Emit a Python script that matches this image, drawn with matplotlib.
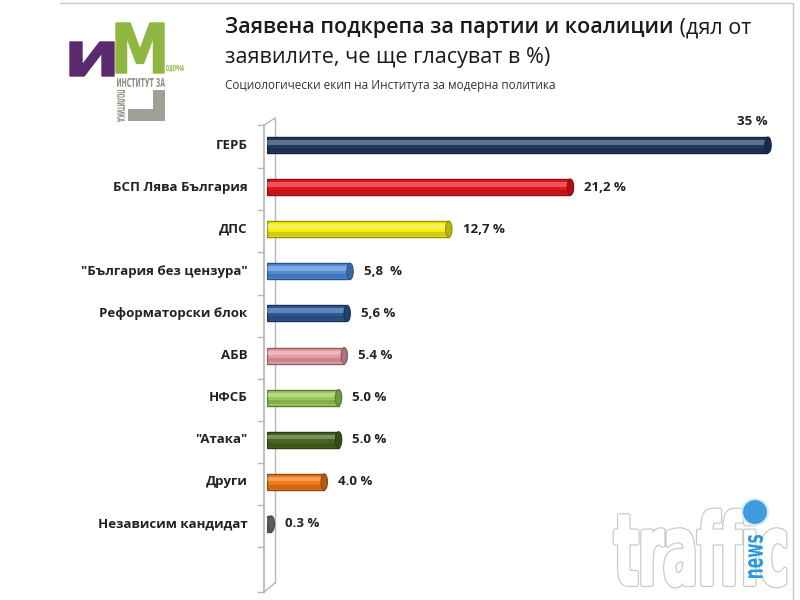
import numpy as np
import matplotlib.pyplot as plt
import matplotlib.colors as mcolors
from matplotlib.patches import Ellipse, PathPatch, Rectangle
from matplotlib.textpath import TextPath
from matplotlib.font_manager import FontProperties
from matplotlib.transforms import Affine2D

plt.rcParams['font.family'] = ['Open Sans', 'DejaVu Sans']

parties = ['ГЕРБ', 'БСП Лява България', 'ДПС', '"България без цензура"',
           'Реформаторски блок', 'АБВ', 'НФСБ', '"Атака"', 'Други',
           'Независим кандидат']
support = [35, 21.2, 12.7, 5.8, 5.6, 5.4, 5.0, 5.0, 4.0, 0.3]
value_labels = ['35 %', '21,2 %', '12,7 %', '5,8  %', '5,6 %', '5.4 %',
                '5.0 %', '5.0 %', '4.0 %', '0.3 %']
colors = ['#1f3a60', '#e8141c', '#f4ee10', '#4f8ad8', '#2c5896',
          '#e99aa2', '#98c95a', '#46651f', '#f07818', '#7a7a7a']

W, H = 800, 600
fig = plt.figure(figsize=(8, 6), dpi=100)
fig.patch.set_facecolor('white')


def box_text(s, x0, y0, x1, y1, color, edge='none', lw=0, rotation=0, zorder=5):
    # stretch a text path so it fills a pixel box (top-left origin)
    tp = TextPath((0, 0), s, size=100,
                  prop=FontProperties(family='DejaVu Sans', weight='bold'))
    ext = tp.get_extents()
    tr = Affine2D().translate(-ext.x0, -ext.y0)
    if rotation == 90:
        tr = tr.rotate_deg(90).translate(ext.height, 0)
        tw, th = ext.height, ext.width
    elif rotation == -90:
        tr = tr.rotate_deg(-90).translate(0, ext.width)
        tw, th = ext.height, ext.width
    else:
        tw, th = ext.width, ext.height
    tr = tr.scale((x1 - x0) / tw / 100, (y1 - y0) / th / 100)
    tr = tr.translate(x0 / 100, (H - y1) / 100)
    fig.add_artist(PathPatch(tr.transform_path(tp), transform=fig.dpi_scale_trans,
                             facecolor=color, edgecolor=edge, lw=lw, zorder=zorder,
                             joinstyle='round'))


def px_rect(x0, y0, x1, y1, color):
    fig.add_artist(Rectangle((x0 / W, 1 - y1 / H), (x1 - x0) / W, (y1 - y0) / H,
                             transform=fig.transFigure, facecolor=color, lw=0))


# plot area: value 0 at x=267px, 35 at x=768px, first bar at y=145px
ax = fig.add_axes([267 / W, 55 / H, 501 / W, 421 / H])
ax.set_xlim(0, 35)
ax.set_ylim(9.5, -0.5)
ax.axis('off')

# 3d wall on the left
wall = '#b5b5b5'
ax.plot([-0.21, -0.21], [-0.475, 10.62], color=wall, lw=1.2, clip_on=False, zorder=1)
ax.plot([0.56, 0.56], [-0.64, 10.40], color=wall, lw=1.0, clip_on=False, zorder=1)
ax.plot([-0.21, 0.56], [-0.475, -0.64], color=wall, lw=1.0, clip_on=False, zorder=1)
ax.plot([-0.21, 0.56], [10.62, 10.40], color=wall, lw=1.0, clip_on=False, zorder=1)
for t in list(np.arange(len(parties)) + 0.55) + [10.62, -0.475]:
    ax.plot([-0.6, -0.21], [t, t], color=wall, lw=1.0, clip_on=False, zorder=1)

h = 0.38
for i, (v, c) in enumerate(zip(support, colors)):
    rgb = np.array(mcolors.to_rgb(c))
    dark = rgb * 0.6
    ax.barh(i, v, height=h, color=c, edgecolor=dark, linewidth=1.0, zorder=3)
    ax.barh(i - h * 0.17, v, height=h * 0.28, color='white', alpha=0.28,
            linewidth=0, zorder=4)
    ax.barh(i + h * 0.3, v, height=h * 0.25, color=dark, alpha=0.35,
            linewidth=0, zorder=4)
    ax.add_patch(Ellipse((v, i), 0.45, h, facecolor=rgb * 0.75,
                         edgecolor=dark, lw=0.8, zorder=5, clip_on=False))

label_font = dict(fontsize=9.5, fontweight='bold', color='#222222')
for i, name in enumerate(parties):
    ax.annotate(name, xy=(0, i), xytext=(-14, 0), textcoords='offset points',
                ha='right', va='center', **label_font)

for i, (v, lbl) in enumerate(zip(support, value_labels)):
    if i == 0:
        ax.annotate(lbl, xy=(v, i), xytext=(0, 12), textcoords='offset points',
                    ha='right', va='bottom', **label_font)
    else:
        ax.annotate(lbl, xy=(v, i), xytext=(10, 0), textcoords='offset points',
                    ha='left', va='center', **label_font)

# title block
r = fig.canvas.get_renderer()
t1 = fig.text(225 / W, 1 - 28 / H, 'Заявена подкрепа за партии и коалиции',
              fontsize=15.5, fontweight='semibold', color='#1a1a1a', va='center')
bb = t1.get_window_extent(renderer=r)
fig.text(bb.x1 / W, 1 - 28 / H, ' (дял от', fontsize=15.5, color='#1a1a1a', va='center')
fig.text(225 / W, 1 - 58 / H, 'заявилите, че ще гласуват в %)', fontsize=15.5,
         color='#1a1a1a', va='center')
fig.text(225 / W, 1 - 85 / H, 'Социологически екип на Института за модерна политика',
         fontsize=8.5, color='#333333', va='center')

# logo
box_text('И', 70, 42, 114, 76, '#5a2a6e', edge='#5a2a6e', lw=1.0)
box_text('М', 116, 23, 164, 73, '#8fb640', edge='#8fb640', lw=1.0)
box_text('ОДЕРНА', 166, 65, 184, 72, '#8fb640')
box_text('ИНСТИТУТ ЗА', 117, 78, 165, 87, '#8c8c80')
box_text('ПОЛИТИКА', 117, 90, 125, 122, '#8c8c80', rotation=-90)
px_rect(153, 90, 165, 121, '#a0a096')
px_rect(128, 109, 165, 121, '#a0a096')

# screenshot frame
fig.add_artist(plt.Line2D([60 / W, 793 / W], [1 - 3 / H, 1 - 3 / H], color='#c8c8c8', lw=1))
fig.add_artist(plt.Line2D([793 / W, 793 / W], [1 - 3 / H, 0], color='#c8c8c8', lw=1))

# watermark: white heavy letters with a soft grey outline
box_text('traffic', 615, 510, 785, 586, '#c8c8c8', edge='#c8c8c8', lw=3.5, zorder=6)
box_text('traffic', 615, 510, 785, 586, 'white', edge='white', lw=1.8, zorder=6)
box_text('news', 748, 535, 763, 578, '#2a9ad8', rotation=90, zorder=7)
fig.add_artist(Ellipse((755 / W, 1 - 512 / H), 26 / W, 26 / H, facecolor='#3f9be0',
                       edgecolor='#d8ecf8', lw=1.5, zorder=7))

fig.savefig('out.png', dpi=100)
